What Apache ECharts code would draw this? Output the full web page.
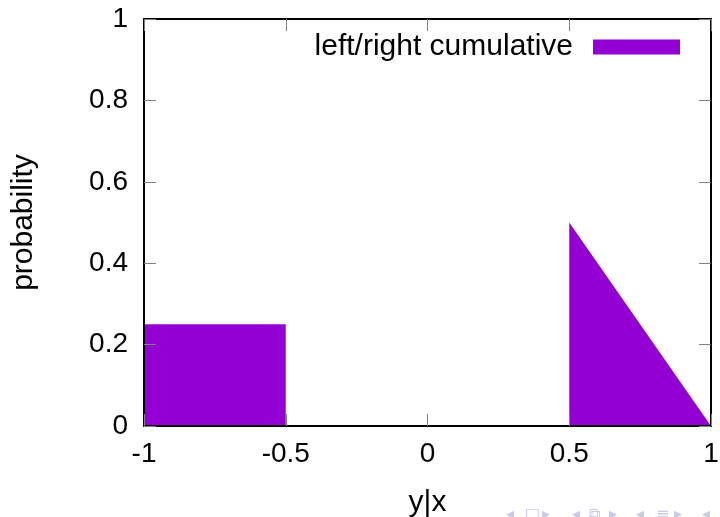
<!DOCTYPE html>
<html>
<head>
<meta charset="utf-8">
<style>html,body{margin:0;padding:0;background:#fff;}#c{width:720px;height:517px;}</style>
<script src="https://cdn.jsdelivr.net/npm/echarts@6/dist/echarts.min.js"></script>
</head>
<body>
<div id="c"></div>
<script>
var seriesName = 'left/right cumulative';
var leftPart = [[-1, 0.25], [-0.5, 0.25]];
var rightPart = [[0.5, 0.5], [1, 0]];
var xRange = [-1, 1];
var yRange = [0, 1];
var navSymbols = [['◂', 512], ['□', 531], ['▸', 548], ['◂', 578], ['⧉', 595], ['▸', 615], ['◂', 642], ['≡', 662], ['▸', 680], ['◂', 708]];

var FONT = 'Liberation Sans, Arial, Helvetica, sans-serif';
var PURPLE = '#9400d3';
var chart = echarts.init(document.getElementById('c'), null, {renderer: 'canvas'});

function mkX(pos, labels) {
  return {
    type: 'value', position: pos, min: xRange[0], max: xRange[1], interval: 0.5, z: 10,
    axisLine: {show: true, onZero: false, lineStyle: {color: '#000', width: 2}},
    axisTick: {show: true, inside: true, length: 12, lineStyle: {color: '#808080', width: 1}},
    axisLabel: {show: labels, color: '#000', fontFamily: FONT, fontSize: 28, margin: 14},
    splitLine: {show: false},
    name: labels ? 'y|x' : '', nameLocation: 'middle', nameGap: 62,
    nameTextStyle: {color: '#000', fontFamily: FONT, fontSize: 30}
  };
}
function mkY(pos, labels) {
  return {
    type: 'value', position: pos, min: yRange[0], max: yRange[1], interval: 0.2, z: 10,
    axisLine: {show: true, onZero: false, lineStyle: {color: '#000', width: 2}},
    axisTick: {show: true, inside: true, length: 12, lineStyle: {color: '#808080', width: 1}},
    axisLabel: {show: labels, color: '#000', fontFamily: FONT, fontSize: 28, margin: 16},
    splitLine: {show: false},
    name: labels ? 'probability' : '', nameLocation: 'middle', nameGap: 105, nameRotate: 90,
    nameTextStyle: {color: '#000', fontFamily: FONT, fontSize: 30}
  };
}
function mkArea(data) {
  return {
    type: 'line', name: seriesName, data: data, symbol: 'none', showSymbol: false,
    lineStyle: {width: 0, color: PURPLE}, itemStyle: {color: PURPLE},
    areaStyle: {color: PURPLE, opacity: 1}, silent: true, animation: false
  };
}

var graphics = navSymbols.map(function (s) {
  return {type: 'text', left: s[1] - 6, top: 507,
    style: {text: s[0], fill: '#c8c8ea', font: '16px DejaVu Sans'}};
});

chart.setOption({
  animation: false,
  backgroundColor: '#fff',
  grid: {left: 144, right: 9, top: 19, bottom: 91, containLabel: false, outerBoundsMode: 'none'},
  xAxis: [mkX('bottom', true), mkX('top', false)],
  yAxis: [mkY('left', true), mkY('right', false)],
  legend: {
    show: true, right: 40, top: 32, padding: 0, itemWidth: 87, itemHeight: 15, align: 'right',
    icon: 'rect', selectedMode: false,
    textStyle: {color: '#000', fontFamily: FONT, fontSize: 30, padding: [0, 15, 0, 0]},
    data: [{name: seriesName, itemStyle: {color: PURPLE}}]
  },
  series: [mkArea(leftPart), mkArea(rightPart)],
  graphic: graphics
});
</script>
</body>
</html>
